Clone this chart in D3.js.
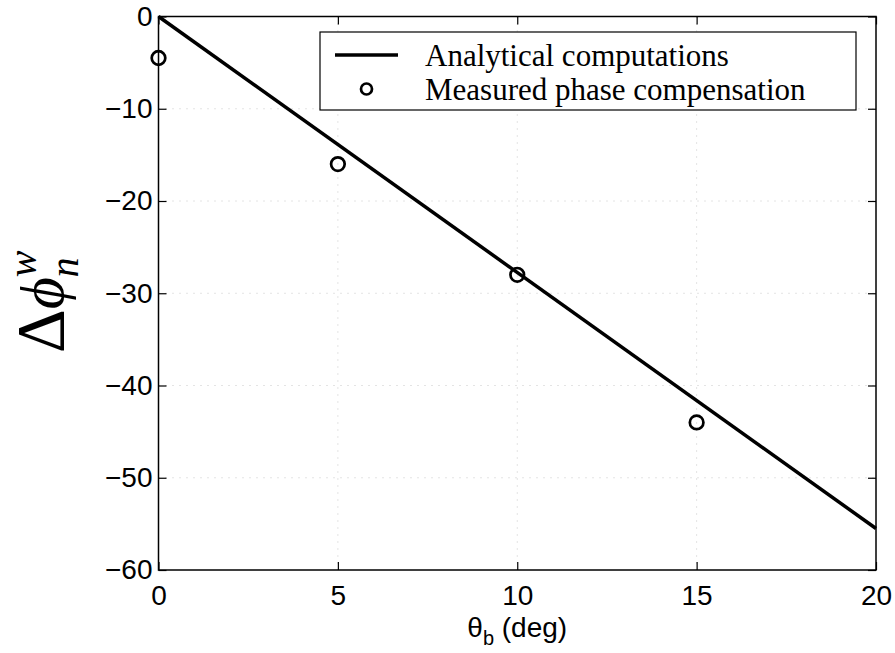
<!DOCTYPE html>
<html>
<head>
<meta charset="utf-8">
<script src="https://cdn.jsdelivr.net/npm/d3@7/dist/d3.min.js"></script>
<style>
body{margin:0;background:#fff;}
svg{display:block;}
</style>
</head>
<body>
<svg id="chart" width="895" height="653"></svg>
<script>
// data
var lineX=[0,20];
var lineY=[0,-55.5];
var measX=[0,5,10,15];
var measY=[-4.5,-16,-28,-44];
var xTicks=[0,5,10,15,20];
var yTicks=[0,-10,-20,-30,-40,-50,-60];
var legendLabels=["Analytical computations","Measured phase compensation"];

var margin={left:158.5,top:16.5,right:19,bottom:83};
var W=895,H=653;
var w=W-margin.left-margin.right,
    h=H-margin.top-margin.bottom;

var svg=d3.select("#chart");
var g=svg.append("g").attr("transform","translate("+margin.left+","+margin.top+")");

var x=d3.scaleLinear().domain([0,20]).range([0,w]);
var y=d3.scaleLinear().domain([-60,0]).range([h,0]);

//grid (dotted)
g.append("g").selectAll("line").data(xTicks.slice(1,-1)).enter().append("line")
  .attr("x1",function(d){return x(d);}).attr("x2",function(d){return x(d);})
  .attr("y1",0).attr("y2",h)
  .attr("stroke","#c8c8c8").attr("stroke-width",1).attr("stroke-dasharray","1,6");
g.append("g").selectAll("line").data(yTicks.slice(1,-1)).enter().append("line")
  .attr("y1",function(d){return y(d);}).attr("y2",function(d){return y(d);})
  .attr("x1",0).attr("x2",w)
  .attr("stroke","#c8c8c8").attr("stroke-width",1).attr("stroke-dasharray","1,6");

var font="'Liberation Sans',Arial,sans-serif";

function styleAxis(sel){
  sel.select(".domain").remove();
  sel.selectAll(".tick line").attr("stroke","#000").attr("stroke-width",1.2);
  sel.selectAll("text").attr("fill","#000").style("font-family",font).style("font-size","28px");
}

var xAxis=d3.axisBottom(x).tickValues(xTicks).tickSize(-8).tickPadding(15).tickFormat(d3.format("d"));
g.append("g").attr("transform","translate(0,"+h+")").call(xAxis).call(styleAxis);
g.append("g").call(d3.axisTop(x).tickValues(xTicks).tickSize(-8).tickFormat("")).call(styleAxis);

var yAxis=d3.axisLeft(y).tickValues(yTicks).tickSize(-8).tickPadding(6).tickFormat(d3.format("d"));
g.append("g").call(yAxis).call(styleAxis);
g.append("g").attr("transform","translate("+w+",0)")
  .call(d3.axisRight(y).tickValues(yTicks).tickSize(-8).tickFormat("")).call(styleAxis);

// box
g.append("rect").attr("x",0).attr("y",0).attr("width",w).attr("height",h)
  .attr("fill","none").attr("stroke","#000").attr("stroke-width",1.5);

// analytical line
var lineData=lineX.map(function(d,i){return [d,lineY[i]];});
g.append("path").datum(lineData)
  .attr("d",d3.line().x(function(d){return x(d[0]);}).y(function(d){return y(d[1]);}))
  .attr("fill","none").attr("stroke","#000").attr("stroke-width",3.5);

// measured points
g.selectAll(".pt").data(measX).enter().append("circle").attr("class","pt")
  .attr("cx",function(d){return x(d);})
  .attr("cy",function(d,i){return y(measY[i]);})
  .attr("r",6.8).attr("fill","none").attr("stroke","#000").attr("stroke-width",2.7);

// legend
var lg=svg.append("g");
lg.append("rect").attr("x",320).attr("y",32).attr("width",536).attr("height",78)
  .attr("fill","#fff").attr("stroke","#000").attr("stroke-width",1.2);
lg.append("line").attr("x1",335).attr("x2",398).attr("y1",55).attr("y2",55)
  .attr("stroke","#000").attr("stroke-width",3.5);
lg.append("circle").attr("cx",366.5).attr("cy",89).attr("r",5.5)
  .attr("fill","none").attr("stroke","#000").attr("stroke-width",2.7);
lg.selectAll("text").data(legendLabels).enter().append("text")
  .attr("x",425).attr("y",function(d,i){return 55+i*34;})
  .attr("dy","0.35em")
  .style("font-family","'Liberation Serif','Times New Roman',serif")
  .style("font-size","31px").attr("fill","#000")
  .text(function(d){return d;});

// x label
var xl=svg.append("text").attr("x",margin.left+w/2).attr("y",637)
  .attr("text-anchor","middle").style("font-family",font).style("font-size","28px").attr("fill","#000");
xl.append("tspan").text("θ");
xl.append("tspan").attr("dy",8).style("font-size","20px").text("b");
xl.append("tspan").attr("dy",-8).text(" (deg)");

// y label
var yl=svg.append("text").attr("transform","translate(63,353) rotate(-90)")
  .style("font-family","'Liberation Serif','Times New Roman',serif").attr("fill","#000");
yl.append("tspan").style("font-size","68px").text("Δ");
yl.append("tspan").style("font-size","62px").style("font-style","italic").text("ϕ");
yl.append("tspan").attr("dy",-27).style("font-size","40px").style("font-style","italic").text("w");
yl.append("tspan").attr("dx",-27).attr("dy",42).style("font-size","40px").style("font-style","italic").text("n");
</script>
</body>
</html>
